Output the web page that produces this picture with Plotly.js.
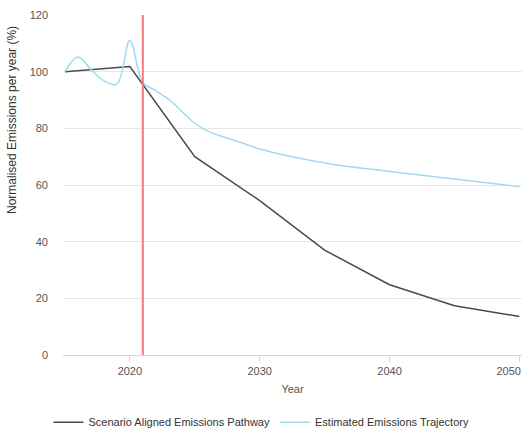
<!DOCTYPE html>
<html>
<head>
<meta charset="utf-8">
<script src="https://cdn.plot.ly/plotly-3.0.1.min.js"></script>
<style>html,body{margin:0;padding:0;background:#fff;}#chart{width:523px;height:429px;}</style>
</head>
<body>
<div id="chart"></div>
<script>
const scenarioYears = [2015, 2020, 2025, 2030, 2035, 2040, 2045, 2050];
const scenarioValues = [100, 101.8, 70, 54.5, 37, 24.8, 17.4, 13.6];

const trajectoryYears = [2015, 2016, 2017, 2018, 2019, 2020, 2021, 2022, 2023, 2024, 2025, 2026, 2027, 2028, 2029, 2030, 2035, 2040, 2045, 2050];
const trajectoryValues = [100, 105.2, 100.8, 96.8, 95.6, 111, 96.2, 93.3, 90.2, 86, 81.8, 79, 77.3, 75.8, 74.3, 72.7, 67.8, 64.8, 62.1, 59.4];

const currentYear = 2021;
const xTicks = [2020, 2030, 2040, 2050];
const xTickLabels = ['2020', '2030', '2040', '2050\u00a0\u00a0\u00a0\u00a0\u00a0\u00a0\u00a0'];
const yTicks = [0, 20, 40, 60, 80, 100, 120];
const yTitle = 'Normalised Emissions per year (%)';

const font = "'Liberation Sans', Arial, sans-serif";

const traces = [
  {
    x: scenarioYears, y: scenarioValues, type: 'scatter', mode: 'lines',
    name: 'Scenario Aligned Emissions Pathway',
    line: {color: '#4a4a4a', width: 1.5}
  },
  {
    x: trajectoryYears, y: trajectoryValues, type: 'scatter', mode: 'lines',
    name: 'Estimated Emissions Trajectory',
    line: {color: '#a3d9f1', width: 1.5, shape: 'spline', smoothing: 1}
  }
];

const layout = {
  width: 523, height: 429,
  margin: {l: 63, r: 1, t: 15, b: 74},
  paper_bgcolor: '#fff', plot_bgcolor: '#fff',
  font: {family: font, size: 11, color: '#333'},
  showlegend: true,
  legend: {
    orientation: 'h', xref: 'container', yref: 'container',
    x: 0.5, xanchor: 'center', y: 0.016, yanchor: 'middle',
    itemwidth: 30,
    font: {family: font, size: 11, color: '#333'}
  },
  xaxis: {
    range: [2014.85, 2050.2],
    tickvals: xTicks, ticktext: xTickLabels,
    ticklabeloverflow: 'allow',
    showgrid: false, zeroline: false,
    showline: true, linecolor: '#ccd6eb', linewidth: 1,
    ticks: 'outside', ticklen: 6, tickcolor: '#ccd6eb',
    tickfont: {family: font, size: 11, color: '#555'},
    title: {text: 'Year', font: {family: font, size: 11, color: '#555'}, standoff: 9}
  },
  yaxis: {
    range: [0, 120],
    tickvals: yTicks, ticktext: yTicks.map(String),
    showgrid: true, gridcolor: '#e6e6e6', gridwidth: 1,
    zeroline: false, showline: false, ticks: '',
    ticklabelstandoff: 14,
    tickfont: {family: font, size: 11, color: '#555'}
  },
  annotations: [{
    text: yTitle, textangle: -90, showarrow: false,
    xref: 'paper', yref: 'paper',
    x: (12 - 63) / 459, y: 1 - (120 - 15) / 340,
    xanchor: 'center', yanchor: 'middle',
    font: {family: font, size: 12, color: '#333'}
  }],
  shapes: [{
    type: 'line', xref: 'x', yref: 'paper',
    x0: currentYear, x1: currentYear, y0: 0, y1: 1,
    line: {color: '#f47c7c', width: 2}
  }]
};

Plotly.newPlot('chart', traces, layout, {displayModeBar: false, staticPlot: true});
</script>
</body>
</html>
